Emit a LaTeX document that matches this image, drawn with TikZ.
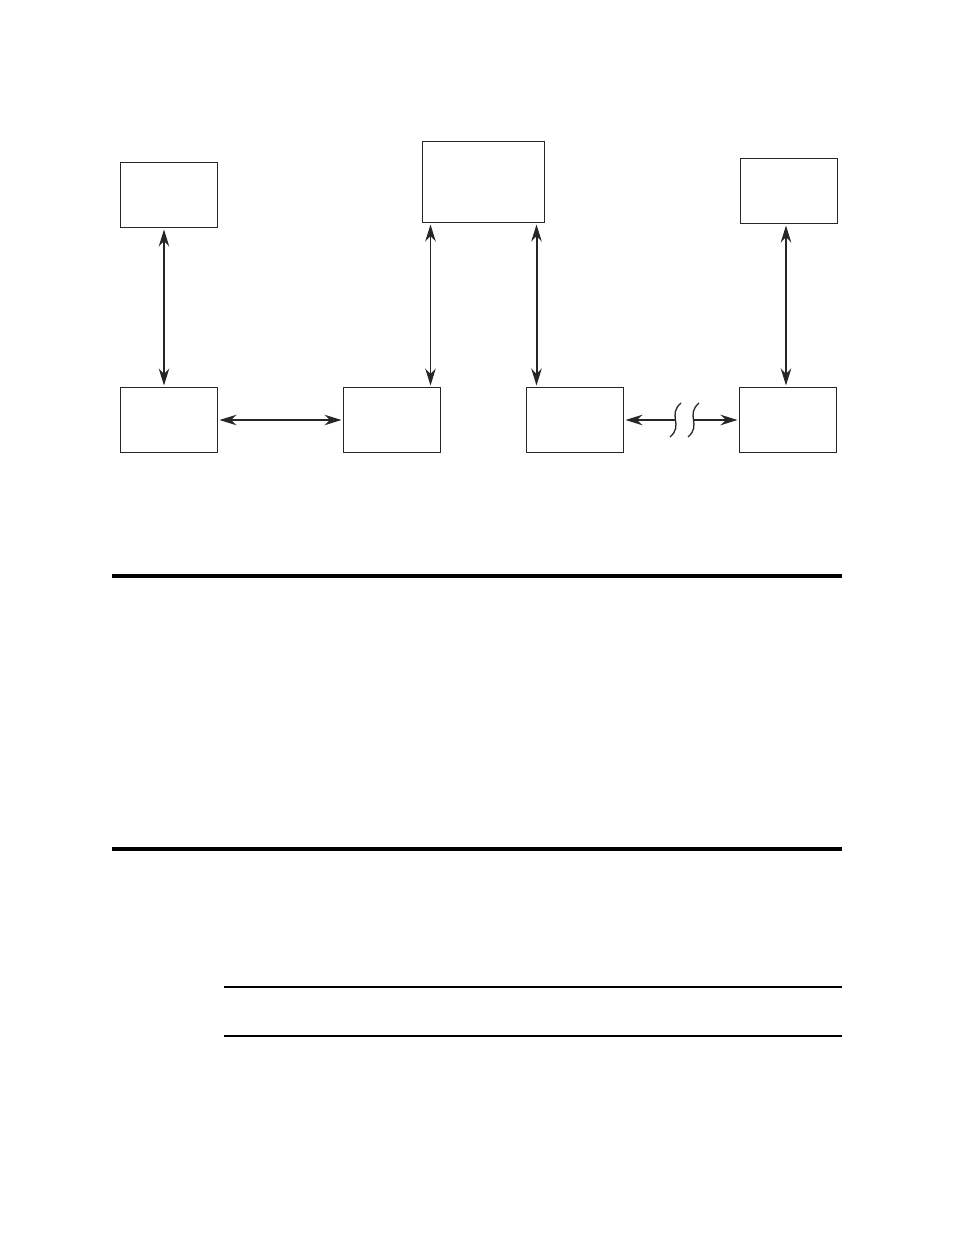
\documentclass[tikz,border=0pt]{standalone}
\usetikzlibrary{arrows.meta,calc}
\begin{document}
\begin{tikzpicture}[x=1pt,y=-1pt,
  tip/.tip={Stealth[length=17pt,width=10.5pt,inset=5.5pt]},
  box/.style={draw=black!85,line width=1.3pt,minimum width=97pt,minimum height=65pt,inner sep=0pt,outer sep=0pt},
  arr/.style={tip-tip,line width=1.2pt,draw=black!85,shorten >=2pt,shorten <=2pt},
  arrthick/.style={arr,line width=2pt},
  rulethick/.style={line width=4pt},
  rulethin/.style={line width=1.2pt},
  rulemed/.style={line width=2.2pt}]
\useasboundingbox (0,0) rectangle (954,1235);
\node[box] (a) at (169,195) {};
\node[box,minimum width=122pt,minimum height=81pt] (b) at (483.5,182) {};
\node[box] (c) at (789,191) {};
\node[box] (d) at (169,420) {};
\node[box] (e) at (392,420) {};
\node[box] (f) at (575,420) {};
\node[box] (g) at (788,420) {};
% vertical connectors
\draw[arr] ([xshift=-5pt]a.south) -- ([xshift=-5pt]d.north);
\draw[arr] ([xshift=8pt]b.south west) -- ([xshift=8pt]b.south west |- e.north);
\draw[arrthick] ([xshift=-8pt]b.south east) -- ([xshift=-8pt]b.south east |- f.north);
\draw[arrthick] ([xshift=-2pt]g.north |- c.south) -- ([xshift=-2pt]g.north);
% horizontal connectors
\draw[arr] (d.east) -- (e.west);
\coordinate (k1) at (675.5,420);
\coordinate (k2) at (693.5,420);
\draw[line width=2pt,draw=black!85,tip-,shorten <=2pt] (f.east) -- (k1);
\draw[line width=2pt,draw=black!85,-tip,shorten >=2pt] (k2) -- (g.west);
\draw[line width=1.3pt,draw=black!85] (670,437) .. controls (684,425) and (667,415) .. (681,403);
\draw[line width=1.3pt,draw=black!85] (688,437) .. controls (702,425) and (685,415) .. (699,403);
% rules
\draw[rulethick] (112,576) -- (842,576);
\draw[rulethick] (112,849) -- (842,849);
\draw[rulethin] (224,987) -- (842,987);
\draw[rulemed] (224,1036) -- (842,1036);
\end{tikzpicture}
\end{document}
